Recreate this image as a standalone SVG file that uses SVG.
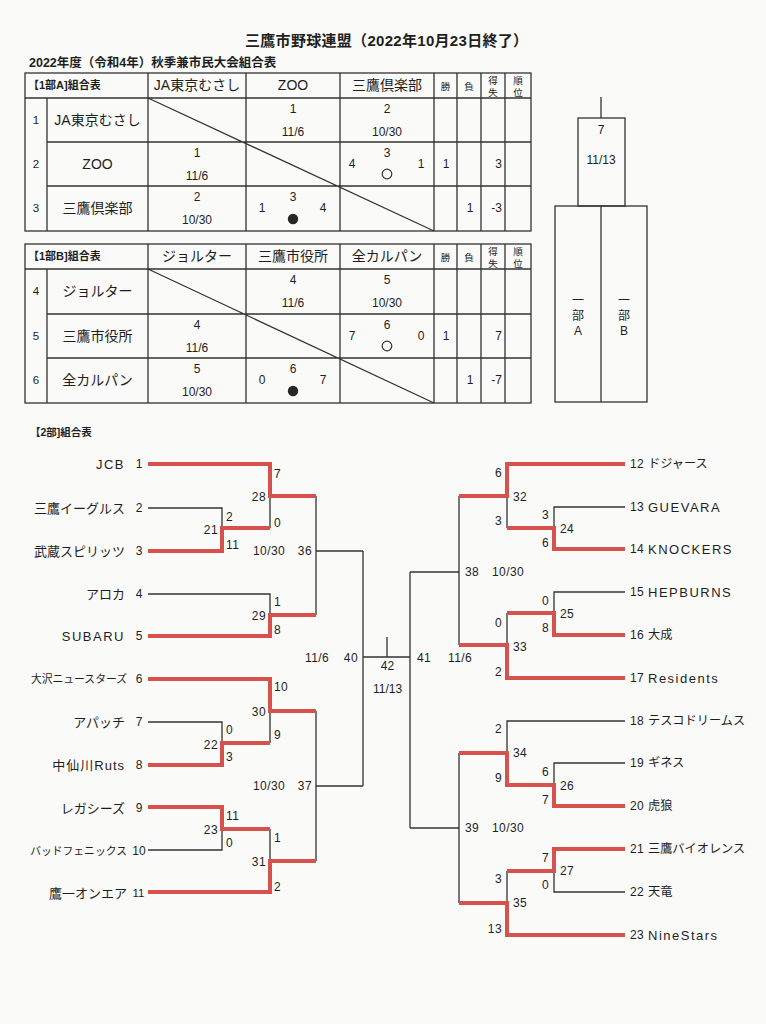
<svg xmlns="http://www.w3.org/2000/svg" width="766" height="1024" viewBox="0 0 766 1024">
<style>
text{font-family:"Liberation Sans","Noto Sans CJK JP",sans-serif;fill:#1e1e1e;dominant-baseline:central}
.ti{font-size:15px;font-weight:bold;letter-spacing:0.3px}
.st{font-size:12.5px;font-weight:bold}
.cap{font-size:11px;font-weight:bold}
.h{font-size:14px;text-anchor:middle}
.c{font-size:12px;text-anchor:middle}
.e{font-size:12px;text-anchor:end}
.sm{font-size:9.5px;text-anchor:middle}
.rn{font-size:11.5px;text-anchor:middle}
.sc{font-size:12px;letter-spacing:0.4px}
.se{font-size:12px;letter-spacing:0.4px;text-anchor:end}
.nl{font-size:13px;text-anchor:end}
.nll{font-size:13px;text-anchor:end;letter-spacing:1.5px}
.nlm{font-size:13px;text-anchor:end;letter-spacing:1px}
.nls{font-size:10.8px;text-anchor:end}
.num{font-size:12px;text-anchor:middle}
.nr{font-size:12.2px}
.nrl{font-size:13px;letter-spacing:1.5px}
.g{stroke:#333;stroke-width:1.3;fill:none}
.r{stroke:#d6524d;stroke-width:4;fill:none;stroke-linejoin:miter}
</style>
<rect width="766" height="1024" fill="#fafaf8"/>

<g id="title">
<text class="ti" x="245" y="40">三鷹市野球連盟（2022年10月23日終了）</text>
<text class="st" x="29" y="63">2022年度（令和4年）秋季兼市民大会組合表</text>
</g>

<g id="tableA">
<rect class="g" x="25" y="73" width="506" height="158"/>
<path class="g" d="M25,98H531M47,142H531M47,186H531M47,98V231M148,73V231M246,73V231M340,73V231M434,73V231M457,73V231M481,73V231M505,73V231M148,98L434,231"/>
<text class="cap" x="28" y="85">【1部A]組合表</text>
<text class="h" x="197" y="85">JA東京むさし</text>
<text class="h" x="293" y="85">ZOO</text>
<text class="h" x="387" y="85">三鷹倶楽部</text>
<text class="sm" x="445.5" y="86">勝</text>
<text class="sm" x="469" y="86">負</text>
<text class="sm" x="493" y="80">得</text><text class="sm" x="493" y="92">失</text>
<text class="sm" x="518" y="80">順</text><text class="sm" x="518" y="92">位</text>
<text class="rn" x="36" y="120">1</text>
<text class="rn" x="36" y="164">2</text>
<text class="rn" x="36" y="208">3</text>
<text class="h" x="97.5" y="120">JA東京むさし</text>
<text class="h" x="97.5" y="164">ZOO</text>
<text class="h" x="97.5" y="208">三鷹倶楽部</text>
<text class="c" x="293" y="109">1</text><text class="c" x="293" y="132">11/6</text>
<text class="c" x="387" y="109">2</text><text class="c" x="387" y="132">10/30</text>
<text class="c" x="197" y="153">1</text><text class="c" x="197" y="176">11/6</text>
<text class="c" x="387" y="153">3</text><text class="c" x="352" y="164">4</text><text class="c" x="421" y="164">1</text>
<circle cx="387" cy="174" r="4.8" fill="none" stroke="#333" stroke-width="1.2"/>
<text class="c" x="446" y="164">1</text><text class="e" x="502" y="164">3</text>
<text class="c" x="197" y="197">2</text><text class="c" x="197" y="220">10/30</text>
<text class="c" x="293" y="197">3</text><text class="c" x="262" y="208">1</text><text class="c" x="323" y="208">4</text>
<circle cx="293" cy="219" r="5.2" fill="#262626"/>
<text class="c" x="470" y="208">1</text><text class="e" x="502" y="208">-3</text>
</g>

<g id="tableB">
<rect class="g" x="25" y="244" width="506" height="159"/>
<path class="g" d="M25,269H531M47,314H531M47,358H531M47,269V403M148,244V403M246,244V403M340,244V403M434,244V403M457,244V403M481,244V403M505,244V403M148,269L434,403"/>
<text class="cap" x="28" y="256">【1部B]組合表</text>
<text class="h" x="197" y="256">ジョルター</text>
<text class="h" x="293" y="256">三鷹市役所</text>
<text class="h" x="387" y="256">全カルパン</text>
<text class="sm" x="445.5" y="257">勝</text>
<text class="sm" x="469" y="257">負</text>
<text class="sm" x="493" y="251">得</text><text class="sm" x="493" y="263">失</text>
<text class="sm" x="518" y="251">順</text><text class="sm" x="518" y="263">位</text>
<text class="rn" x="36" y="291">4</text>
<text class="rn" x="36" y="336">5</text>
<text class="rn" x="36" y="380">6</text>
<text class="h" x="97.5" y="291">ジョルター</text>
<text class="h" x="97.5" y="336">三鷹市役所</text>
<text class="h" x="97.5" y="380">全カルパン</text>
<text class="c" x="293" y="280">4</text><text class="c" x="293" y="303">11/6</text>
<text class="c" x="387" y="280">5</text><text class="c" x="387" y="303">10/30</text>
<text class="c" x="197" y="325">4</text><text class="c" x="197" y="348">11/6</text>
<text class="c" x="387" y="325">6</text><text class="c" x="352" y="336">7</text><text class="c" x="421" y="336">0</text>
<circle cx="387" cy="346" r="4.8" fill="none" stroke="#333" stroke-width="1.2"/>
<text class="c" x="446" y="336">1</text><text class="e" x="502" y="336">7</text>
<text class="c" x="197" y="369">5</text><text class="c" x="197" y="392">10/30</text>
<text class="c" x="293" y="369">6</text><text class="c" x="262" y="380">0</text><text class="c" x="323" y="380">7</text>
<circle cx="293" cy="391" r="5.2" fill="#262626"/>
<text class="c" x="470" y="380">1</text><text class="e" x="502" y="380">-7</text>
</g>

<g id="final1">
<path class="g" d="M601,97V118"/>
<rect class="g" x="578" y="118" width="47" height="88"/>
<rect class="g" x="555" y="206" width="92" height="196"/>
<path class="g" d="M601,206V402"/>
<text class="c" x="601" y="130">7</text>
<text class="c" x="601" y="160">11/13</text>
<text class="c" x="578" y="301">一</text><text class="c" x="578" y="316">部</text><text class="c" x="578" y="331">A</text>
<text class="c" x="624" y="301">一</text><text class="c" x="624" y="316">部</text><text class="c" x="624" y="331">B</text>
</g>

<text class="cap" x="30" y="432" style="font-size:10.5px">【2部]組合表</text>

<g id="connectors">
<path class="g" d="M148,508H222V528M270,528V496M148,594H270V615M316,496V615M316,551H363M148,722H222V743M270,743V711M148,850H222V829M270,829V861M316,711V861M316,786H363M363,551V786M363,657H410M387,637V657M410,572V828"/>
<path class="g" d="M625,507H554V528M507,528V496M625,592H554V613M507,613V645M459,496V645M459,572H410M625,721H507V753M625,763H554V785M625,892H554V871M507,871V903M459,753V903M459,828H410"/>
<path class="r" d="M148,464H270V496H316"/>
<path class="r" d="M148,551H222V528H270"/>
<path class="r" d="M148,636H270V615H316"/>
<path class="r" d="M148,679H270V711H316"/>
<path class="r" d="M148,765H222V743H270"/>
<path class="r" d="M148,807H222V829H270"/>
<path class="r" d="M148,892H270V861H316"/>
<path class="r" d="M625,464H507V496H459"/>
<path class="r" d="M625,549H554V528H507"/>
<path class="r" d="M625,635H554V613H507"/>
<path class="r" d="M625,678H507V645H459"/>
<path class="r" d="M625,806H554V785H507V753H459"/>
<path class="r" d="M625,849H554V871H507"/>
<path class="r" d="M625,935H507V903H459"/>
</g>

<g id="scores">
<text class="sc" x="274" y="474">7</text>
<text class="se" x="266" y="497">28</text>
<text class="sc" x="274" y="523">0</text>
<text class="sc" x="226" y="517">2</text>
<text class="se" x="218" y="530">21</text>
<text class="sc" x="226" y="545">11</text>
<text class="sc" x="253" y="551">10/30</text>
<text class="se" x="312" y="551">36</text>
<text class="sc" x="274" y="602">1</text>
<text class="se" x="266" y="616">29</text>
<text class="sc" x="274" y="630">8</text>
<text class="sc" x="305" y="658">11/6</text>
<text class="se" x="358" y="658">40</text>
<text class="c" x="387.5" y="666">42</text>
<text class="c" x="387.5" y="689">11/13</text>
<text class="sc" x="417" y="658">41</text>
<text class="sc" x="448" y="658">11/6</text>
<text class="sc" x="274" y="687">10</text>
<text class="se" x="266" y="712">30</text>
<text class="sc" x="274" y="735">9</text>
<text class="sc" x="226" y="730">0</text>
<text class="se" x="218" y="745">22</text>
<text class="sc" x="226" y="757">3</text>
<text class="sc" x="253" y="786">10/30</text>
<text class="se" x="312" y="786">37</text>
<text class="sc" x="226" y="816">11</text>
<text class="se" x="218" y="830">23</text>
<text class="sc" x="226" y="843">0</text>
<text class="sc" x="274" y="838">1</text>
<text class="se" x="266" y="862">31</text>
<text class="sc" x="274" y="887">2</text>
<text class="se" x="502" y="473">6</text>
<text class="sc" x="513" y="497">32</text>
<text class="se" x="502" y="521">3</text>
<text class="se" x="549" y="515">3</text>
<text class="sc" x="560" y="529">24</text>
<text class="se" x="549" y="543">6</text>
<text class="sc" x="465" y="572">38</text>
<text class="sc" x="492" y="572">10/30</text>
<text class="se" x="549" y="601">0</text>
<text class="sc" x="560" y="614">25</text>
<text class="se" x="549" y="628">8</text>
<text class="se" x="502" y="623">0</text>
<text class="sc" x="513" y="647">33</text>
<text class="se" x="502" y="672">2</text>
<text class="se" x="502" y="729">2</text>
<text class="sc" x="513" y="753">34</text>
<text class="se" x="502" y="778">9</text>
<text class="se" x="549" y="772">6</text>
<text class="sc" x="560" y="786">26</text>
<text class="se" x="549" y="800">7</text>
<text class="sc" x="465" y="828">39</text>
<text class="sc" x="492" y="828">10/30</text>
<text class="se" x="549" y="858">7</text>
<text class="sc" x="560" y="871">27</text>
<text class="se" x="549" y="885">0</text>
<text class="se" x="502" y="879">3</text>
<text class="sc" x="513" y="903">35</text>
<text class="se" x="502" y="929">13</text>
</g>

<g id="team1"><text class="nll" x="125" y="464">JCB</text><text class="num" x="139" y="464">1</text></g>
<g id="team2"><text class="nl" x="125" y="508">三鷹イーグルス</text><text class="num" x="139" y="508">2</text></g>
<g id="team3"><text class="nl" x="125" y="551">武蔵スピリッツ</text><text class="num" x="139" y="551">3</text></g>
<g id="team4"><text class="nl" x="125" y="594">アロカ</text><text class="num" x="139" y="594">4</text></g>
<g id="team5"><text class="nll" x="125" y="636">SUBARU</text><text class="num" x="139" y="636">5</text></g>
<g id="team6"><text class="nls" x="127" y="679">大沢ニュースターズ</text><text class="num" x="139" y="679">6</text></g>
<g id="team7"><text class="nl" x="125" y="722">アパッチ</text><text class="num" x="139" y="722">7</text></g>
<g id="team8"><text class="nlm" x="125" y="765">中仙川Ruts</text><text class="num" x="139" y="765">8</text></g>
<g id="team9"><text class="nl" x="125" y="808">レガシーズ</text><text class="num" x="139" y="808">9</text></g>
<g id="team10"><text class="nls" x="127" y="851">バッドフェニックス</text><text class="num" x="139" y="851">10</text></g>
<g id="team11"><text class="nl" x="127" y="893">鷹一オンエア</text><text class="num" x="138.5" y="893" style="font-size:11.5px">11</text></g>

<g id="team12"><text class="sc" x="630" y="464">12</text><text class="nr" x="648" y="464">ドジャース</text></g>
<g id="team13"><text class="sc" x="630" y="507">13</text><text class="nrl" x="648" y="507">GUEVARA</text></g>
<g id="team14"><text class="sc" x="630" y="549">14</text><text class="nrl" x="648" y="549">KNOCKERS</text></g>
<g id="team15"><text class="sc" x="630" y="592">15</text><text class="nrl" x="648" y="592">HEPBURNS</text></g>
<g id="team16"><text class="sc" x="630" y="635">16</text><text class="nr" x="648" y="635">大成</text></g>
<g id="team17"><text class="sc" x="630" y="678">17</text><text class="nrl" x="648" y="678">Residents</text></g>
<g id="team18"><text class="sc" x="630" y="721">18</text><text class="nr" x="648" y="721">テスコドリームス</text></g>
<g id="team19"><text class="sc" x="630" y="763">19</text><text class="nr" x="648" y="763">ギネス</text></g>
<g id="team20"><text class="sc" x="630" y="806">20</text><text class="nr" x="648" y="806">虎狼</text></g>
<g id="team21"><text class="sc" x="630" y="849">21</text><text class="nr" x="648" y="849">三鷹バイオレンス</text></g>
<g id="team22"><text class="sc" x="630" y="892">22</text><text class="nr" x="648" y="892">天竜</text></g>
<g id="team23"><text class="sc" x="630" y="935">23</text><text class="nrl" x="648" y="935">NineStars</text></g>
</svg>
